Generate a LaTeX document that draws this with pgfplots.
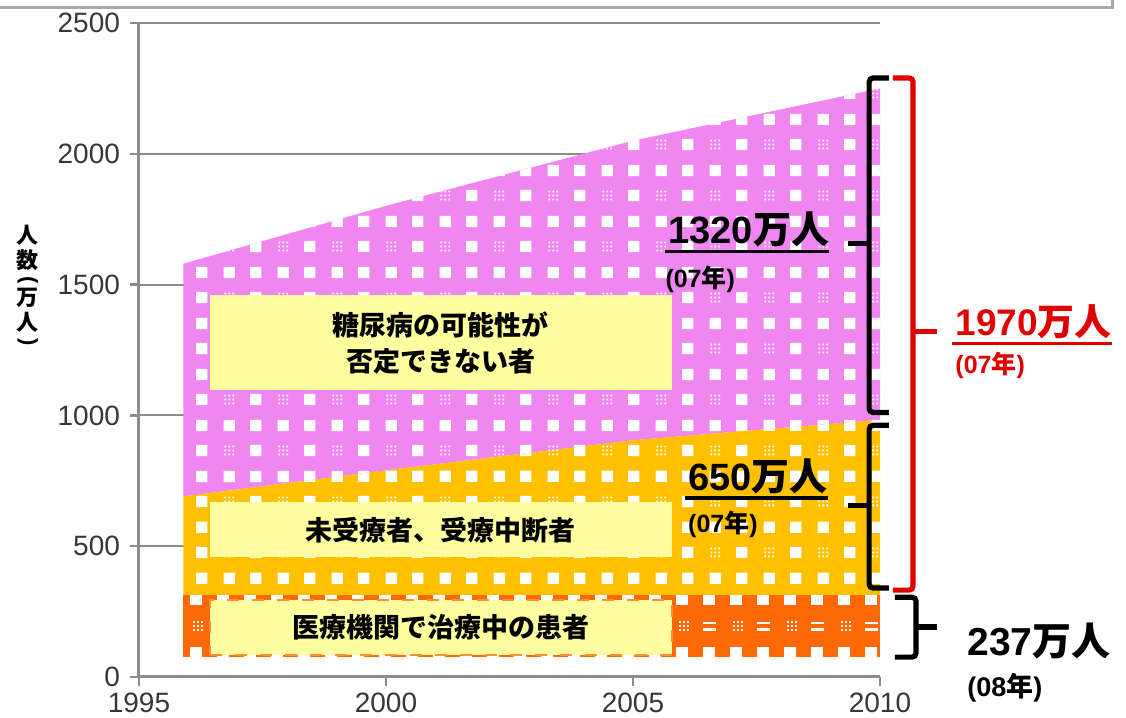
\documentclass[border=0pt]{standalone}
\usepackage{pgfplots}
\pgfplotsset{compat=1.18}
\usepackage{pgfplotstable}
\usepgfplotslibrary{fillbetween}
\usetikzlibrary{patterns}
\usepackage{fontspec}
\setmainfont{Liberation Sans}
\newfontfamily\jp{Noto Sans CJK JP}

\definecolor{pinkc}{RGB}{240,135,240}
\definecolor{goldc}{RGB}{255,192,0}
\definecolor{orangec}{RGB}{255,105,5}
\definecolor{boxc}{RGB}{255,255,160}
\definecolor{redc}{RGB}{225,0,0}
\definecolor{axisgray}{RGB}{140,140,140}
\definecolor{ticktext}{RGB}{55,55,55}

% white square holes of the pictogram bands
\pgfdeclarepatternformonly{holes}{\pgfqpoint{0pt}{0pt}}{\pgfqpoint{27pt}{25.5pt}}{\pgfqpoint{27pt}{25.5pt}}{%
  \pgfpathrectangle{\pgfqpoint{3.875pt}{16.25pt}}{\pgfqpoint{5.75pt}{5.75pt}}%
  \pgfpathrectangle{\pgfqpoint{17.375pt}{16.25pt}}{\pgfqpoint{5.75pt}{5.75pt}}%
  \pgfpathrectangle{\pgfqpoint{17.375pt}{3.5pt}}{\pgfqpoint{5.75pt}{5.75pt}}%
  \pgfpathrectangle{\pgfqpoint{4.3pt}{3.93pt}}{\pgfqpoint{0.9pt}{0.9pt}}%
  \pgfpathrectangle{\pgfqpoint{6.3pt}{3.93pt}}{\pgfqpoint{0.9pt}{0.9pt}}%
  \pgfpathrectangle{\pgfqpoint{8.3pt}{3.93pt}}{\pgfqpoint{0.9pt}{0.9pt}}%
  \pgfpathrectangle{\pgfqpoint{4.3pt}{5.93pt}}{\pgfqpoint{0.9pt}{0.9pt}}%
  \pgfpathrectangle{\pgfqpoint{6.3pt}{5.93pt}}{\pgfqpoint{0.9pt}{0.9pt}}%
  \pgfpathrectangle{\pgfqpoint{8.3pt}{5.93pt}}{\pgfqpoint{0.9pt}{0.9pt}}%
  \pgfpathrectangle{\pgfqpoint{4.3pt}{7.93pt}}{\pgfqpoint{0.9pt}{0.9pt}}%
  \pgfpathrectangle{\pgfqpoint{6.3pt}{7.93pt}}{\pgfqpoint{0.9pt}{0.9pt}}%
  \pgfpathrectangle{\pgfqpoint{8.3pt}{7.93pt}}{\pgfqpoint{0.9pt}{0.9pt}}%
  \pgfusepath{fill}}

% thick underline for the headline numbers
\newcommand\ul[1]{\setbox0=\hbox{#1}\rlap{\hspace{-1.5pt}\raisebox{-4.8pt}{\rule{\dimexpr\wd0+1.5pt\relax}{1.7pt}}}\box0}

% band limits (x, lower, middle, upper)
\pgfplotstableread{
x      lo    mid    hi
1995.9 75    193.5  312
2010   75    193.5  312
}\orangeband
% upper edge of the untreated band
\pgfplotstableread{
x      y
1995.9 690
2000   790
2005   905
2010   983
}\goldtop
% upper edge of the "cannot be ruled out" band
\pgfplotstableread{
x      y
1995.9 1580
2000   1801
2005   2050
2010   2250
}\pinktop

\begin{document}
\begin{tikzpicture}[
  ytitle/.style={inner sep=0pt, font=\jp\bfseries\fontsize{11}{11}\selectfont},
  yparen/.style={inner sep=0pt, rotate=-90, font=\bfseries\fontsize{11}{11}\selectfont},
]
\begin{axis}[
  scale only axis, width=370.5pt, height=327pt,
  at={(0pt,0pt)}, anchor=south west,
  xmin=1995, xmax=2010, ymin=0, ymax=2500,
  axis x line=bottom, axis y line=left,
  axis line style={-, axisgray, line width=1.5pt},
  xtick={1995,2000,2005,2010}, ytick={0,500,...,2500},
  ymajorgrids, major grid style={axisgray, line width=1pt},
  tick style={axisgray, line width=1.2pt},
  tick align=outside, major tick length=4.5pt,
  ticklabel style={font=\fontsize{14}{14}\selectfont, text=ticktext},
  yticklabel style={xshift=-1.5pt},
  /pgf/number format/assume math mode=true,
  /pgf/number format/1000 sep={},
  clip=false,
]
\addplot[name path=obot, draw=none] table[x=x,y=lo]{\orangeband};
\addplot[name path=otop, draw=none] table[x=x,y=hi]{\orangeband};
\addplot[name path=gtop, draw=none] table[x=x,y=y]{\goldtop};
\addplot[name path=ptop, draw=none] table[x=x,y=y]{\pinktop};

\addplot[fill=pinkc, draw=none] fill between[of=gtop and ptop];
\addplot[pattern=holes, pattern color=white, draw=none] fill between[of=gtop and ptop];
\addplot[fill=goldc, draw=none] fill between[of=otop and gtop];
\addplot[pattern=holes, pattern color=white, draw=none] fill between[of=otop and gtop];
\addplot[fill=orangec, draw=none] fill between[of=obot and otop];

% notches and symbols of the treated band
\addplot[white, line width=5pt, dash pattern=on 6pt off 7.5pt, dash phase=10pt, yshift=-2.5pt] table[x=x,y=hi]{\orangeband};
\addplot[white, line width=5pt, dash pattern=on 6pt off 7.5pt, dash phase=10pt, yshift=2.5pt] table[x=x,y=lo]{\orangeband};
\addplot[white, line width=1.2pt, dash pattern=on 6.5pt off 20.5pt, dash phase=10.25pt, yshift=1.6pt] table[x=x,y=mid]{\orangeband};
\addplot[white, line width=1.2pt, dash pattern=on 6.5pt off 20.5pt, dash phase=10.25pt, yshift=-1.6pt] table[x=x,y=mid]{\orangeband};
\addplot[white, line width=0.9pt, dash pattern=on 0.9pt off 1.1pt on 0.9pt off 1.1pt on 0.9pt off 22.1pt, dash phase=22.1pt, yshift=2pt] table[x=x,y=mid]{\orangeband};
\addplot[white, line width=0.9pt, dash pattern=on 0.9pt off 1.1pt on 0.9pt off 1.1pt on 0.9pt off 22.1pt, dash phase=22.1pt] table[x=x,y=mid]{\orangeband};
\addplot[white, line width=0.9pt, dash pattern=on 0.9pt off 1.1pt on 0.9pt off 1.1pt on 0.9pt off 22.1pt, dash phase=22.1pt, yshift=-2pt] table[x=x,y=mid]{\orangeband};

% category boxes
\node[fill=boxc, minimum width=231pt, minimum height=47.5pt, inner sep=0pt, align=center,
      font=\jp\bfseries\fontsize{13.5}{18}\selectfont] at (axis cs:2001.11,1277) {糖尿病の可能性が\\否定できない者};
\node[fill=boxc, minimum width=231pt, minimum height=27.5pt, inner sep=0pt,
      font=\jp\bfseries\fontsize{13.5}{18}\selectfont] at (axis cs:2001.11,563) {未受療者、受療中断者};
\node[fill=boxc, draw=orangec!75!boxc, dash pattern=on 6pt off 6.5pt, line width=1.1pt,
      minimum width=231pt, minimum height=27.5pt, inner sep=0pt,
      font=\jp\bfseries\fontsize{13.5}{18}\selectfont] at (axis cs:2001.11,190) {医療機関で治療中の患者};

% headline figures
\node[anchor=base west, inner sep=0pt, font=\bfseries\fontsize{19}{19}\selectfont] at (axis cs:2005.71,1656) {\ul{1320{\jp 万人}}};
\node[anchor=base west, inner sep=0pt, font=\bfseries\fontsize{12.5}{12.5}\selectfont] at (axis cs:2005.65,1489) {(07{\jp 年})};
\node[anchor=base west, inner sep=0pt, font=\bfseries\fontsize{19}{19}\selectfont] at (axis cs:2006.11,714) {\ul{650{\jp 万人}}};
\node[anchor=base west, inner sep=0pt, font=\bfseries\fontsize{12.5}{12.5}\selectfont] at (axis cs:2006.11,553) {(07{\jp 年})};
\node[anchor=base west, inner sep=0pt, text=redc, font=\bfseries\fontsize{18.5}{18.5}\selectfont] at (axis cs:2011.52,1305) {\ul{1970{\jp 万人}}};
\node[anchor=base west, inner sep=0pt, text=redc, font=\bfseries\fontsize{12.5}{12.5}\selectfont] at (axis cs:2011.52,1160) {(07{\jp 年})};
\node[anchor=base west, inner sep=0pt, font=\bfseries\fontsize{19.5}{19.5}\selectfont] at (axis cs:2011.76,84) {237{\jp 万人}};
\node[anchor=base west, inner sep=0pt, font=\bfseries\fontsize{13.5}{13.5}\selectfont] at (axis cs:2011.76,-76) {(08{\jp 年})};

% brackets
\draw[line width=2.6pt, rounded corners=2pt] (axis cs:2010.18,2290) -- (axis cs:2009.78,2290) -- (axis cs:2009.78,1011) -- (axis cs:2010.18,1011);
\draw[line width=2.6pt] (axis cs:2009.78,1656) -- (axis cs:2009.35,1656);
\draw[line width=2.6pt, rounded corners=2pt] (axis cs:2010.18,962) -- (axis cs:2009.78,962) -- (axis cs:2009.78,340) -- (axis cs:2010.18,340);
\draw[line width=2.6pt] (axis cs:2009.78,656) -- (axis cs:2009.35,656);
\draw[redc, line width=2.6pt, rounded corners=2pt] (axis cs:2010.26,2290) -- (axis cs:2010.67,2290) -- (axis cs:2010.67,332) -- (axis cs:2010.26,332);
\draw[redc, line width=2.6pt] (axis cs:2010.67,1320) -- (axis cs:2011.15,1320);
\draw[line width=2.6pt, rounded corners=2pt] (axis cs:2010.30,305) -- (axis cs:2010.73,305) -- (axis cs:2010.73,76) -- (axis cs:2010.30,76);
\draw[line width=2.6pt] (axis cs:2010.73,191) -- (axis cs:2011.15,191);

% axis title, set vertically with turned parentheses
\node[ytitle] at (axis cs:1992.75,1687) {人};
\node[ytitle] at (axis cs:1992.75,1592) {数};
\node[yparen] at (axis cs:1992.75,1516) {(};
\node[ytitle] at (axis cs:1992.75,1450) {万};
\node[ytitle] at (axis cs:1992.75,1355) {人};
\node[yparen] at (axis cs:1992.75,1280) {)};
\end{axis}
% frame edge above the plot and fixed page extent
\draw[axisgray!75, line width=1.5pt] (-80pt,334.5pt) -- (486.5pt,334.5pt) -- (486.5pt,345pt);
\pgfresetboundingbox
\useasboundingbox (-69.5pt,-20.5pt) rectangle (493.5pt,338.5pt);
\end{tikzpicture}
\end{document}
